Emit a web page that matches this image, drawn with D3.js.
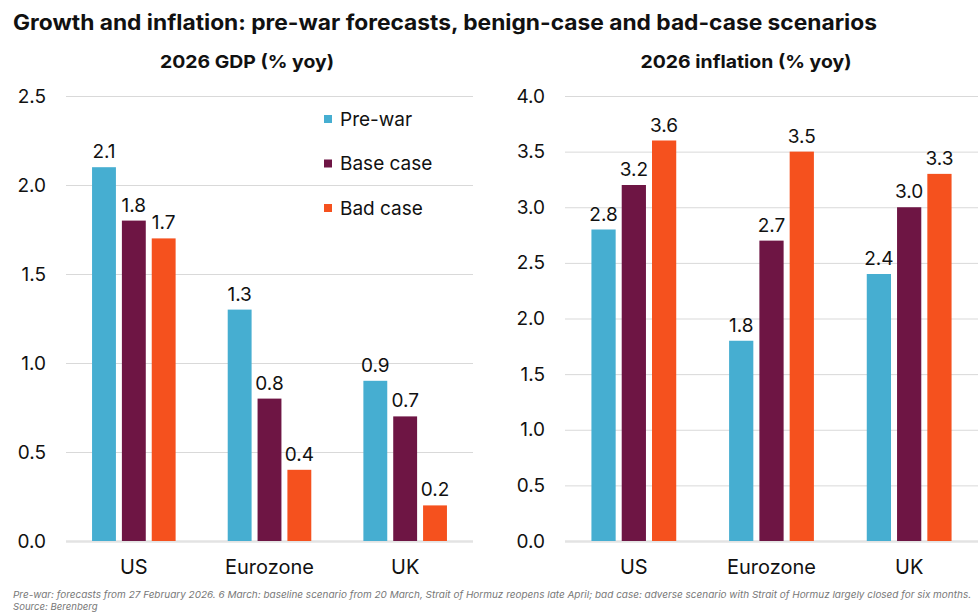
<!DOCTYPE html>
<html>
<head>
<meta charset="utf-8">
<script src="https://cdn.jsdelivr.net/npm/d3@7"></script>
<style>
  body { margin: 0; background: #fff; }
  svg { display: block; font-family: Inter, "Open Sans", sans-serif; }
</style>
</head>
<body>
<div id="chart"></div>
<script>
// Data
const categories = ["US", "Eurozone", "UK"];
const seriesNames = ["Pre-war", "Base case", "Bad case"];
const gdpPreWar = [2.1, 1.3, 0.9];
const gdpBase = [1.8, 0.8, 0.7];
const gdpBad = [1.7, 0.4, 0.2];
const infPreWar = [2.8, 1.8, 2.4];
const infBase = [3.2, 2.7, 3.0];
const infBad = [3.6, 3.5, 3.3];
const gdpTicks = [0, 0.5, 1.0, 1.5, 2.0, 2.5];
const infTicks = [0, 0.5, 1.0, 1.5, 2.0, 2.5, 3.0, 3.5, 4.0];

const colors = d3.scaleOrdinal()
  .domain(seriesNames)
  .range(["#46AED1", "#6E1544", "#F5511E"]);

const width = 979;
const height = 616;

const svg = d3.select("#chart")
  .append("svg")
  .attr("width", width)
  .attr("height", height);

// stretch a text up to a target width (reference font is wider than ours)
function fitWidth(sel, w) {
  sel.each(function () {
    if (this.getComputedTextLength() < w) {
      d3.select(this).attr("textLength", w).attr("lengthAdjust", "spacingAndGlyphs");
    }
  });
}

// Main title
svg.append("text")
  .attr("x", 13)
  .attr("y", 30)
  .attr("font-size", 21)
  .attr("font-weight", 700)
  .attr("fill", "#111")
  .text("Growth and inflation: pre-war forecasts, benign-case and bad-case scenarios")
  .call(fitWidth, 864);

// Draw one panel of grouped bars
function panel(opts) {
  const { x0, x1, yMax, ticks, series, title, titleX, titleW } = opts;
  const top = 96, bottom = 541;

  const g = svg.append("g");

  const x = d3.scaleBand()
    .domain(categories)
    .range([x0, x1])
    .paddingInner(0.34)
    .paddingOuter(0.17);

  const xs = d3.scaleBand()
    .domain(seriesNames)
    .range([0, x.bandwidth()])
    .paddingInner(0.2)
    .paddingOuter(0.1);

  const y = d3.scaleLinear()
    .domain([0, yMax])
    .range([bottom, top]);

  // Panel title
  g.append("text")
    .attr("x", titleX - titleW / 2)
    .attr("y", 68)
    .attr("font-size", 18)
    .attr("font-weight", 700)
    .attr("fill", "#111")
    .text(title)
    .call(fitWidth, titleW);

  // Gridlines and tick labels
  const yAxis = g.append("g")
    .attr("transform", `translate(${x0},0)`)
    .call(d3.axisLeft(y)
      .tickValues(ticks)
      .tickFormat(d3.format(".1f"))
      .tickSize(-(x1 - x0))
      .tickPadding(20));
  yAxis.select(".domain").remove();
  yAxis.selectAll(".tick line")
    .attr("stroke", d => d === 0 ? "#e3e3e3" : "#d9d9d9")
    .attr("stroke-width", d => d === 0 ? 2.5 : 1);
  yAxis.selectAll(".tick text")
    .attr("font-family", "Inter, sans-serif")
    .attr("font-size", 19)
    .attr("fill", "#111");

  // Category labels
  const xAxis = g.append("g")
    .attr("transform", `translate(0,${bottom})`)
    .call(d3.axisBottom(x).tickSize(0).tickPadding(19));
  xAxis.select(".domain").remove();
  xAxis.selectAll(".tick text")
    .attr("font-family", "Inter, sans-serif")
    .attr("font-size", 20)
    .attr("fill", "#111");

  // Bars
  const groups = g.selectAll(".grp")
    .data(categories)
    .enter().append("g")
    .attr("class", "grp")
    .attr("transform", d => `translate(${x(d)},0)`);

  groups.selectAll("rect")
    .data((c, i) => seriesNames.map((s, j) => ({ s, v: series[j][i] })))
    .enter().append("rect")
    .attr("x", d => xs(d.s))
    .attr("width", xs.bandwidth())
    .attr("y", d => y(d.v))
    .attr("height", d => bottom - y(d.v))
    .attr("fill", d => colors(d.s));

  groups.selectAll(".val")
    .data((c, i) => seriesNames.map((s, j) => ({ s, v: series[j][i] })))
    .enter().append("text")
    .attr("class", "val")
    .attr("x", d => xs(d.s) + xs.bandwidth() / 2)
    .attr("y", d => y(d.v) - 9)
    .attr("text-anchor", "middle")
    .attr("font-size", 19)
    .attr("fill", "#111")
    .text(d => d3.format(".1f")(d.v));
}

panel({
  x0: 66, x1: 473, yMax: 2.5, ticks: gdpTicks,
  series: [gdpPreWar, gdpBase, gdpBad],
  title: "2026 GDP (% yoy)", titleX: 247, titleW: 174
});

panel({
  x0: 565, x1: 978, yMax: 4.0, ticks: infTicks,
  series: [infPreWar, infBase, infBad],
  title: "2026 inflation (% yoy)", titleX: 746, titleW: 211
});

// Legend
const legend = svg.append("g")
  .attr("transform", "translate(324,119)");

const item = legend.selectAll("g")
  .data(seriesNames)
  .enter().append("g")
  .attr("transform", (d, i) => `translate(0,${i * 44.5})`);

item.append("rect")
  .attr("x", 0)
  .attr("y", -4)
  .attr("width", 8)
  .attr("height", 8)
  .attr("fill", d => colors(d));

item.append("text")
  .attr("x", 16)
  .attr("y", 0)
  .attr("dy", "0.35em")
  .attr("font-size", 19)
  .attr("fill", "#111")
  .text(d => d);

// Footnote
const notes = [
  "Pre-war: forecasts from 27 February 2026. 6 March: baseline scenario from 20 March, Strait of Hormuz reopens late April; bad case: adverse scenario with Strait of Hormuz largely closed for six months.",
  "Source: Berenberg"
];
svg.selectAll(".note")
  .data(notes)
  .enter().append("text")
  .attr("class", "note")
  .attr("x", 13)
  .attr("y", (d, i) => 598 + i * 12)
  .attr("font-size", 9.6)
  .attr("font-style", "italic")
  .attr("fill", "#777")
  .text(d => d)
  .filter((d, i) => i === 0)
  .call(fitWidth, 958);
</script>
</body>
</html>
